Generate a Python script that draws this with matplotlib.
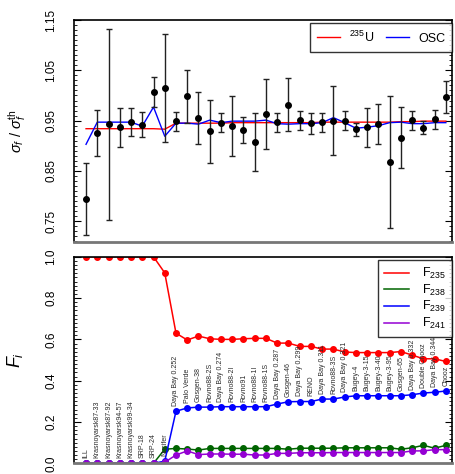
import numpy as np
import matplotlib
matplotlib.use("Agg")
import matplotlib.pyplot as plt
from matplotlib.ticker import MultipleLocator

plt.rcParams['font.family'] = ['Liberation Sans', 'DejaVu Sans']
plt.rcParams['mathtext.fontset'] = 'custom'
plt.rcParams['mathtext.rm'] = 'Liberation Sans'
plt.rcParams['mathtext.it'] = 'Liberation Sans:italic'

# experiments, sorted by F235
experiments = ["ILL", "Krasnoyarsk87-33", "Krasnoyarsk87-92", "Krasnoyarsk94-57",
               "Krasnoyarsk99-34", "SRP-18", "SRP-24", "Nucifer", "Daya Bay 0.252",
               "Palo Verde", "Gosgen-38", "Rovno88-2S", "Daya Bay 0.274", "Rovno88-2I",
               "Rovno91", "Rovno88-1I", "Rovno88-1S", "Daya Bay 0.287", "Gosgen-46",
               "Daya Bay 0.299", "RENO", "Daya Bay 0.311", "Rovno88-3S", "Daya Bay 0.321",
               "Bugey-4", "Bugey-3-15", "Bugey-3-40", "Bugey-3-95", "Gosgen-65",
               "Daya Bay 0.332", "Double Chooz", "Daya Bay 0.344", "Chooz"]

# measured ratio and errors
ratio = [0.794, 0.926, 0.943, 0.937, 0.947, 0.942, 1.007, 1.015, 0.949, 0.998, 0.955,
         0.929, 0.946, 0.939, 0.931, 0.908, 0.963, 0.947, 0.982, 0.951, 0.945, 0.947,
         0.950, 0.950, 0.933, 0.937, 0.943, 0.868, 0.916, 0.951, 0.936, 0.953, 0.997]
ratio_err = [0.072, 0.046, 0.190, 0.039, 0.028, 0.025, 0.029, 0.107, 0.019, 0.052, 0.051,
             0.063, 0.019, 0.059, 0.026, 0.058, 0.070, 0.019, 0.052, 0.019, 0.021, 0.019,
             0.069, 0.019, 0.013, 0.039, 0.040, 0.131, 0.061, 0.019, 0.013, 0.019, 0.031]

# fits
fit_u235 = [0.934, 0.934, 0.934, 0.934, 0.934, 0.934, 0.934, 0.933, 0.945, 0.945, 0.945,
            0.945, 0.945, 0.946, 0.946, 0.946, 0.946, 0.946, 0.946, 0.946, 0.946, 0.947,
            0.947, 0.947, 0.947, 0.947, 0.947, 0.947, 0.948, 0.948, 0.949, 0.949, 0.949]
fit_osc = [0.903, 0.947, 0.947, 0.947, 0.947, 0.939, 0.977, 0.919, 0.945, 0.945, 0.943,
           0.951, 0.946, 0.949, 0.949, 0.949, 0.951, 0.944, 0.943, 0.944, 0.944, 0.946,
           0.956, 0.946, 0.935, 0.937, 0.940, 0.946, 0.947, 0.944, 0.944, 0.946, 0.946]

# fission fractions
f235 = [1.0, 1.0, 1.0, 1.0, 1.0, 1.0, 1.0, 0.922, 0.630, 0.597, 0.616, 0.603, 0.600,
        0.600, 0.603, 0.605, 0.605, 0.582, 0.582, 0.566, 0.566, 0.553, 0.553, 0.539,
        0.536, 0.536, 0.536, 0.536, 0.541, 0.524, 0.506, 0.506, 0.493]
f238 = [0.0, 0.0, 0.0, 0.0, 0.0, 0.0, 0.0, 0.068, 0.072, 0.069, 0.064, 0.072, 0.072,
        0.072, 0.072, 0.072, 0.072, 0.072, 0.068, 0.073, 0.073, 0.073, 0.073, 0.075,
        0.075, 0.075, 0.075, 0.075, 0.068, 0.075, 0.087, 0.073, 0.087]
f239 = [0.0, 0.0, 0.0, 0.0, 0.0, 0.0, 0.0, 0.010, 0.252, 0.268, 0.272, 0.272, 0.274,
        0.274, 0.274, 0.274, 0.274, 0.287, 0.298, 0.299, 0.299, 0.311, 0.311, 0.321,
        0.327, 0.327, 0.327, 0.327, 0.327, 0.332, 0.340, 0.344, 0.350]
f241 = [0.0, 0.0, 0.0, 0.0, 0.0, 0.0, 0.0, 0.005, 0.040, 0.060, 0.042, 0.045, 0.045,
        0.044, 0.044, 0.040, 0.040, 0.048, 0.048, 0.051, 0.051, 0.051, 0.052, 0.052,
        0.052, 0.052, 0.052, 0.052, 0.052, 0.060, 0.060, 0.066, 0.066]

x = np.arange(len(experiments))

fig = plt.figure(figsize=(4.56, 4.74), dpi=100)
ax1 = fig.add_axes([0.1623, 0.4895, 0.829, 0.4684])
ax2 = fig.add_axes([0.1623, 0.0226, 0.829, 0.4357])

# top panel
ax1.plot(x, fit_u235, color='red', lw=1.0, label=r'$^{235}$U')
ax1.plot(x, fit_osc, color='blue', lw=1.0, label='OSC')
ax1.errorbar(x, ratio, yerr=ratio_err, fmt='o', color='black', ms=4,
             ecolor='#222222', elinewidth=1.0, capsize=2.2, capthick=1.0)
ax1.set_ylim(0.709, 1.15)
ax1.set_yticks([0.75, 0.85, 0.95, 1.05, 1.15])
ax1.yaxis.set_minor_locator(MultipleLocator(0.01))
ax1.set_ylabel(r'$\sigma_f\ /\ \sigma_f^{\rm th}$', fontsize=10.5)
ax1.yaxis.set_label_coords(-0.122, 0.5)
leg1 = ax1.legend(loc='upper right', ncol=2, bbox_to_anchor=(1.0, 0.988),
                  borderaxespad=0, fancybox=False, edgecolor='black', fontsize=9,
                  handlelength=1.9, columnspacing=0.9, handletextpad=0.7, borderpad=0.55)
leg1.get_frame().set_linewidth(1.0)

# bottom panel
fractions = [(f235, 'red', r'F$_{235}$'), (f238, '#006400', r'F$_{238}$'),
             (f239, 'blue', r'F$_{239}$'), (f241, '#9400d3', r'F$_{241}$')]
for vals, col, lab in fractions:
    ax2.plot(x, vals, '-', color=col, lw=1.1, label=lab)
    ax2.plot(x, vals, 'o', color=col, ms=4)
for xi, name, f in zip(x, experiments, f239):
    ax2.text(xi, f + 0.025, name, rotation=90, ha='center', va='bottom',
             fontsize=5.0, color='#2a2a2a')
ax2.set_ylim(0, 1.0)
ax2.set_yticks([0.0, 0.2, 0.4, 0.6, 0.8, 1.0])
ax2.yaxis.set_minor_locator(MultipleLocator(0.02))
ax2.set_ylabel(r'$F_i$', fontsize=13)
ax2.yaxis.set_label_coords(-0.13, 0.5)
leg2 = ax2.legend(loc='upper right', bbox_to_anchor=(1.0, 0.985), borderaxespad=0,
                  fancybox=False, edgecolor='black', fontsize=9, handlelength=2.0,
                  handletextpad=1.0, labelspacing=0.12, borderpad=0.5)
leg2.get_frame().set_linewidth(1.0)
leg2.set_zorder(5)

for ax in (ax1, ax2):
    ax.set_xlim(-1.07, 32.55)
    ax.set_xticks([])
    ax.tick_params(axis='y', which='both', direction='in', left=True, right=True,
                   labelsize=8.5, pad=12)
    ax.tick_params(axis='y', which='major', length=5)
    ax.tick_params(axis='y', which='minor', length=2.5)
    for lab in ax.get_yticklabels():
        lab.set_rotation(90)
        lab.set_va('center')
    for s in ('top', 'left', 'right'):
        ax.spines[s].set_linewidth(1.2)
    ax.spines['bottom'].set_color('#777777')
    ax.spines['bottom'].set_linewidth(2.0)

fig.savefig('out.png', dpi=100)
